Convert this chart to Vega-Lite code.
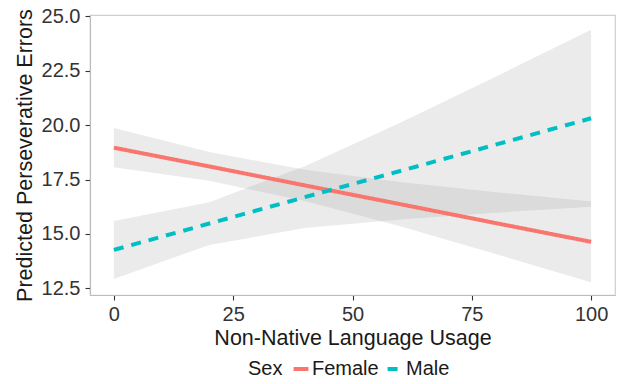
{
  "$schema": "https://vega.github.io/schema/vega-lite/v6.json",
  "width": 525,
  "height": 280,
  "autosize": {"type": "none"},
  "padding": {"left": 90, "top": 15, "right": 2, "bottom": 89},
  "background": "white",
  "config": {
    "font": "Liberation Sans",
    "view": {"stroke": "#cfcfcf", "strokeWidth": 1.2},
    "axis": {
      "grid": false,
      "domainColor": "#bdbdbd",
      "domainWidth": 1.2,
      "tickColor": "#333333",
      "tickSize": 5,
      "tickWidth": 1.1,
      "labelFont": "Liberation Sans",
      "labelFontSize": 20,
      "labelColor": "#333333",
      "titleFont": "Liberation Sans",
      "titleFontSize": 21.5,
      "titleFontWeight": "normal",
      "titleColor": "#1a1a1a"
    },
    "legend": {
      "labelFont": "Liberation Sans",
      "labelFontSize": 20,
      "labelColor": "#1a1a1a",
      "titleFont": "Liberation Sans",
      "titleFontSize": 20,
      "titleFontWeight": "normal",
      "titleColor": "#1a1a1a"
    }
  },
  "data": {
    "values": [
      {"usage": 0, "sex": "Female", "fit": 18.96, "lo": 18.06, "hi": 19.86},
      {"usage": 20, "sex": "Female", "fit": 18.10, "lo": 17.44, "hi": 18.76},
      {"usage": 40, "sex": "Female", "fit": 17.23, "lo": 16.51, "hi": 17.95},
      {"usage": 60, "sex": "Female", "fit": 16.37, "lo": 15.35, "hi": 17.39},
      {"usage": 80, "sex": "Female", "fit": 15.50, "lo": 14.08, "hi": 16.92},
      {"usage": 100, "sex": "Female", "fit": 14.64, "lo": 12.79, "hi": 16.49},
      {"usage": 0, "sex": "Male", "fit": 14.27, "lo": 12.94, "hi": 15.60},
      {"usage": 20, "sex": "Male", "fit": 15.48, "lo": 14.50, "hi": 16.46},
      {"usage": 40, "sex": "Male", "fit": 16.69, "lo": 15.27, "hi": 18.11},
      {"usage": 60, "sex": "Male", "fit": 17.89, "lo": 15.67, "hi": 20.11},
      {"usage": 80, "sex": "Male", "fit": 19.10, "lo": 15.98, "hi": 22.22},
      {"usage": 100, "sex": "Male", "fit": 20.31, "lo": 16.25, "hi": 24.37}
    ]
  },
  "encoding": {
    "x": {
      "field": "usage",
      "type": "quantitative",
      "scale": {"domain": [-5, 105], "nice": false, "zero": false},
      "axis": {
        "title": "Non-Native Language Usage",
        "values": [0, 25, 50, 75, 100],
        "labelPadding": 4,
        "titlePadding": 3
      }
    },
    "y": {
      "type": "quantitative",
      "scale": {"domain": [12.2, 25.05], "nice": false, "zero": false},
      "axis": {
        "title": "Predicted Perseverative Errors",
        "values": [12.5, 15, 17.5, 20, 22.5, 25],
        "format": ".1f",
        "labelPadding": 5,
        "titlePadding": 5
      }
    }
  },
  "layer": [
    {
      "mark": {"type": "area", "color": "#999999", "opacity": 0.2},
      "encoding": {
        "y": {"field": "lo", "type": "quantitative"},
        "y2": {"field": "hi"},
        "detail": {"field": "sex"}
      }
    },
    {
      "mark": {"type": "line", "strokeWidth": 4, "strokeCap": "butt"},
      "encoding": {
        "y": {"field": "fit", "type": "quantitative"},
        "color": {
          "field": "sex",
          "type": "nominal",
          "scale": {"domain": ["Female", "Male"], "range": ["#F8766D", "#00BFC4"]},
          "legend": {
            "title": "Sex",
            "orient": "none",
            "direction": "horizontal",
            "titleOrient": "left",
            "legendX": 158,
            "legendY": 344,
            "symbolType": "stroke",
            "symbolSize": 220,
            "symbolStrokeWidth": 4,
            "titlePadding": 8,
            "labelOffset": 1,
            "columnPadding": 0
          }
        },
        "strokeDash": {
          "field": "sex",
          "type": "nominal",
          "scale": {"domain": ["Female", "Male"], "range": [[1, 0], [10, 8]]},
          "legend": {
            "title": "Sex",
            "orient": "none",
            "direction": "horizontal",
            "titleOrient": "left",
            "legendX": 158,
            "legendY": 344,
            "symbolType": "stroke",
            "symbolSize": 220,
            "symbolStrokeWidth": 4,
            "titlePadding": 8,
            "labelOffset": 1,
            "columnPadding": 0
          }
        }
      }
    }
  ]
}
